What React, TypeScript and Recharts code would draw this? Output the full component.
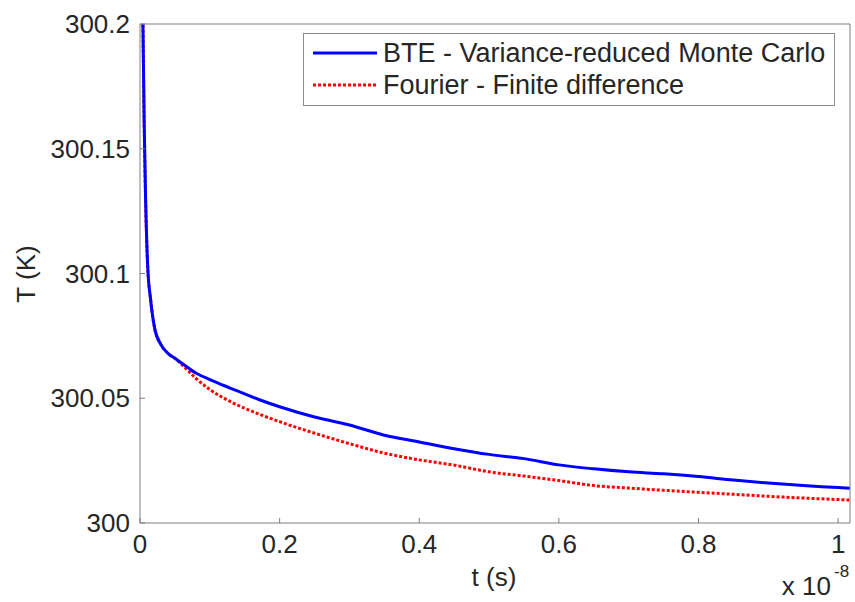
import React from 'react'
import { LineChart, Line, XAxis, YAxis, Legend, Label } from 'recharts'

// time in units of 1e-8 s
const tValues = [
  0, 0.002, 0.004, 0.006, 0.008, 0.011, 0.015, 0.021, 0.03, 0.04, 0.05, 0.06, 0.08, 0.1, 0.13, 0.17, 0.2,
  0.25, 0.3, 0.35, 0.4, 0.45, 0.5, 0.55, 0.6, 0.65, 0.7, 0.75, 0.8, 0.85, 0.9, 0.95, 1.0, 1.017,
]
const bteValues = [
  300.33, 300.26, 300.205, 300.16, 300.13, 300.103, 300.09, 300.078, 300.0715, 300.068, 300.066, 300.064,
  300.0601, 300.0575, 300.054, 300.0495, 300.0466, 300.0425, 300.0393, 300.0352, 300.0325, 300.0298,
  300.0275, 300.0258, 300.0233, 300.0217, 300.0205, 300.0197, 300.0186, 300.0172, 300.016, 300.015,
  300.0142, 300.0139,
]
const fourierValues = [
  300.33, 300.26, 300.205, 300.16, 300.13, 300.103, 300.09, 300.078, 300.0715, 300.068, 300.066, 300.0635,
  300.058, 300.0535, 300.0486, 300.0437, 300.0406, 300.036, 300.0318, 300.028, 300.0253, 300.0232,
  300.0205, 300.0188, 300.017, 300.015, 300.014, 300.0131, 300.0123, 300.0115, 300.0107, 300.01,
  300.0094, 300.0092,
]
const xTicks = [0, 0.2, 0.4, 0.6, 0.8, 1]
const yTicks = [300, 300.05, 300.1, 300.15, 300.2]
const seriesNames = ['BTE - Variance-reduced Monte Carlo', 'Fourier - Finite difference']

const data = tValues.map((t, i) => ({ t, bte: bteValues[i], fourier: fourierValues[i] }))

const font = '"Liberation Sans", Arial, Helvetica, sans-serif'
const axisColor = '#7f7f7f'
const textColor = '#262626'
const tickStyle = { fill: textColor, fontSize: 26, fontFamily: font }

const fmtX = (v: number) => String(Number(v.toFixed(2)))
const fmtY = (v: number) => String(Number(v.toFixed(2)))

function renderLegend(props: any) {
  const payload = props.payload || []
  return (
    <div
      style={{
        border: '1px solid #8c8c8c',
        background: '#fff',
        padding: '3px 9px 4px 9px',
        fontFamily: font,
        fontSize: 27,
        color: textColor,
        lineHeight: '32px',
        textAlign: 'left',
      }}
    >
      {payload.map((p: any) => (
        <div key={p.value} style={{ display: 'flex', alignItems: 'center', whiteSpace: 'nowrap' }}>
          <svg width={64} height={10} style={{ marginRight: 6 }}>
            <line
              x1={0}
              x2={64}
              y1={5}
              y2={5}
              stroke={p.color}
              strokeWidth={3}
              strokeDasharray={p.payload && p.payload.strokeDasharray}
            />
          </svg>
          <span>{p.value}</span>
        </div>
      ))}
    </div>
  )
}

export default function App() {
  return (
    <div style={{ position: 'absolute', left: 0, top: 0, width: 855, height: 602, background: '#fff' }}>
      <LineChart width={855} height={602} data={data} margin={{ top: 23, right: 4, bottom: 0, left: 0 }}>
        <XAxis
          dataKey="t"
          type="number"
          domain={[0, 1.017]}
          ticks={xTicks}
          tickFormatter={fmtX}
          allowDataOverflow
          height={79}
          stroke={axisColor}
          tickSize={-5}
          tickMargin={17}
          tick={tickStyle}
        >
          <Label
            content={(p: any) => {
              const vb = p.viewBox || { x: 140, y: 523, width: 710 }
              return (
                <g fontFamily={font} fill={textColor}>
                  <text x={vb.x + vb.width / 2 - 1} y={586} fontSize={26} textAnchor="middle">
                    t (s)
                  </text>
                  <text x={vb.x + vb.width - 19} y={595} fontSize={26} textAnchor="end">
                    x 10
                  </text>
                  <text x={vb.x + vb.width - 16} y={577} fontSize={17} textAnchor="start">
                    -8
                  </text>
                </g>
              )
            }}
          />
        </XAxis>
        <XAxis
          xAxisId="top"
          orientation="top"
          type="number"
          domain={[0, 1.017]}
          ticks={xTicks}
          allowDataOverflow
          height={1}
          stroke={axisColor}
          tickSize={-5}
          tick={false}
        />
        <YAxis
          type="number"
          domain={[300, 300.2]}
          ticks={yTicks}
          tickFormatter={fmtY}
          allowDataOverflow
          width={140}
          stroke={axisColor}
          tickSize={-5}
          tickMargin={15}
          tick={tickStyle}
        >
          <Label
            content={() => (
              <text
                x={35}
                y={274}
                transform="rotate(-90, 35, 274)"
                textAnchor="middle"
                fontFamily={font}
                fontSize={26}
                fill={textColor}
              >
                T (K)
              </text>
            )}
          />
        </YAxis>
        <YAxis
          yAxisId="right"
          orientation="right"
          type="number"
          domain={[300, 300.2]}
          ticks={yTicks}
          allowDataOverflow
          width={1}
          stroke={axisColor}
          tickSize={-5}
          tick={false}
        />
        <Legend
          layout="vertical"
          verticalAlign="middle"
          align="center"
          content={renderLegend}
          wrapperStyle={{ top: 33, left: 303, width: 'auto' }}
          payload={[
            { value: seriesNames[0], type: 'line', color: '#0000ff', payload: { strokeDasharray: undefined } },
            { value: seriesNames[1], type: 'line', color: '#ff0000', payload: { strokeDasharray: '3 2' } },
          ] as any}
        />
        <Line
          type="monotone"
          dataKey="fourier"
          name={seriesNames[1]}
          stroke="#ff0000"
          strokeWidth={3}
          strokeDasharray="3 2"
          dot={false}
          isAnimationActive={false}
        />
        <Line
          type="monotone"
          dataKey="bte"
          name={seriesNames[0]}
          stroke="#0000ff"
          strokeWidth={3}
          dot={false}
          isAnimationActive={false}
        />
      </LineChart>
    </div>
  )
}
